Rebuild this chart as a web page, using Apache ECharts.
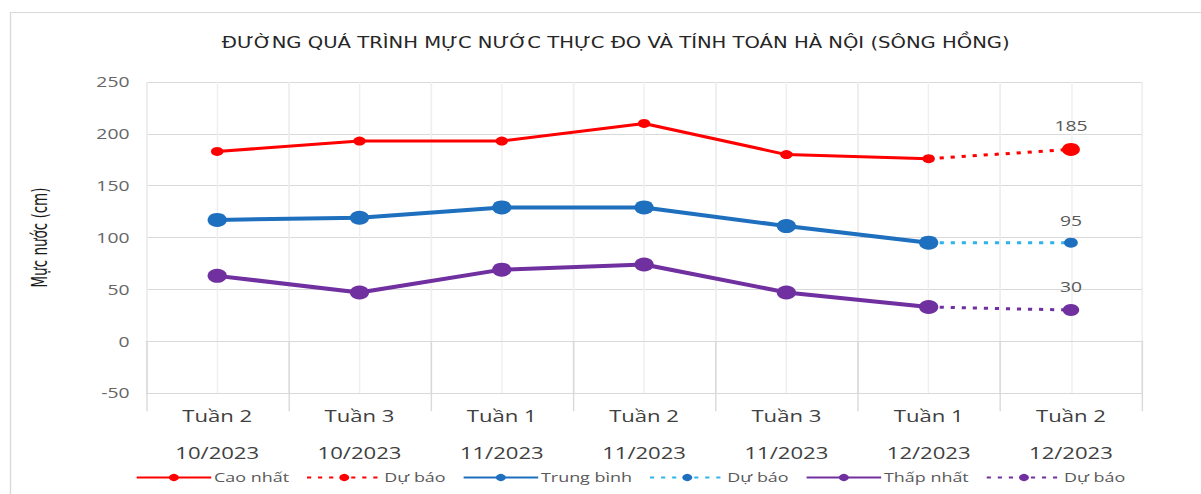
<!DOCTYPE html>
<html><head><meta charset="utf-8">
<script src="https://cdn.jsdelivr.net/npm/echarts@6/dist/echarts.min.js"></script>
<style>
html,body{margin:0;padding:0;background:#fff;overflow:hidden}
#c{width:870px;height:494px;transform:scaleX(1.3805);transform-origin:0 0}
</style>
</head><body><div id="c"></div>
<script>
const weeks = ['Tuần 2','Tuần 3','Tuần 1','Tuần 2','Tuần 3','Tuần 1','Tuần 2'];
const months = ['10/2023','10/2023','11/2023','11/2023','11/2023','12/2023','12/2023'];
const caoNhat = [183, 193, 193, 210, 180, 176, null];
const caoNhatDuBao = [null, null, null, null, null, 176, 185];
const trungBinh = [117, 119, 129, 129, 111, 95, null];
const trungBinhDuBao = [null, null, null, null, null, 95, 95];
const thapNhat = [63, 47, 69, 74, 47, 33, null];
const thapNhatDuBao = [null, null, null, null, null, 33, 30];
const yTicks = {min: -50, max: 250, interval: 50};

const categories = weeks.map((w, i) => w + '\n' + months[i]);
const halfCats = [];
categories.forEach((c, i) => { halfCats.push('a' + i, 'b' + i); });

const RED = '#ff0000', BLUE = '#1f6fbf', LBLUE = '#2db4ea', PURPLE = '#7030a0';
const narrow = '"Liberation Sans Narrow", "DejaVu Sans Condensed", sans-serif';
const body = '"Open Sans", sans-serif';

function forecast(arr, endSize) {
  return arr.map((v, i) => {
    if (v == null) return null;
    if (i === arr.length - 1) return {value: v, symbolSize: endSize, label: {show: true}};
    return {value: v, symbol: 'none'};
  });
}
const labelStyle = {position: 'top', distance: 10, color: '#595959', fontSize: 14, fontFamily: body};

const chart = echarts.init(document.getElementById('c'), null, {renderer: 'svg'});
chart.setOption({
  animation: false,
  title: {
    text: 'ĐƯỜNG QUÁ TRÌNH MỰC NƯỚC THỰC ĐO VÀ TÍNH TOÁN HÀ NỘI (SÔNG HỒNG)',
    left: 441, top: 29, textAlign: 'center',
    textStyle: {fontFamily: narrow, fontSize: 15.8, fontWeight: 'normal', color: '#262626'}
  },
  graphic: [{
    type: 'polyline', shape: {points: [[7.6, 494], [7.6, 12.5], [870, 12.5]]},
    style: {stroke: '#d9d9d9', lineWidth: 1, fill: null}, silent: true
  }],
  legend: {
    top: 466, left: 93, itemWidth: 54, itemHeight: 9, itemGap: 12,
    textStyle: {color: '#595959', fontSize: 13, fontFamily: body, padding: [0, 0, 0, -3]},
    data: ['Cao nhất', 'Dự báo', 'Trung bình', 'Dự báo\u200b', 'Thấp nhất', 'Dự báo\u200b\u200b']
  },
  grid: {left: 105.8, right: 42.7, top: 82, bottom: 101},
  xAxis: [{
    type: 'category', data: categories, boundaryGap: true,
    axisLine: {show: true, lineStyle: {color: '#d9d9d9'}},
    axisTick: {show: true, length: 70, lineStyle: {color: '#d9d9d9'}},
    splitLine: {show: true, lineStyle: {color: '#e6e6e6'}},
    axisLabel: {color: '#404040', fontSize: 16, fontFamily: body, lineHeight: 37, margin: 4}
  }, {
    type: 'category', data: halfCats, boundaryGap: true, position: 'bottom',
    axisLine: {show: false}, axisTick: {show: false}, axisLabel: {show: false},
    splitLine: {show: true, lineStyle: {color: '#efefef'}}
  }],
  yAxis: {
    type: 'value', min: yTicks.min, max: yTicks.max, interval: yTicks.interval,
    name: 'Mực nước (cm)', nameLocation: 'middle', nameGap: 70, nameRotate: 90,
    nameTextStyle: {fontFamily: narrow, fontSize: 15, color: '#1a1a1a'},
    axisLine: {show: false}, axisTick: {show: false},
    axisLabel: {color: '#666666', fontSize: 14, fontFamily: body, margin: 12},
    splitLine: {lineStyle: {color: '#d9d9d9'}}
  },
  series: [
    {name: 'Cao nhất', type: 'line', data: caoNhat, symbol: 'circle', symbolSize: 9,
     lineStyle: {color: RED, width: 3}, itemStyle: {color: RED}, z: 3},
    {name: 'Dự báo', type: 'line', data: forecast(caoNhatDuBao, 13), symbol: 'circle', symbolSize: 13,
     lineStyle: {color: RED, width: 3, type: [3, 5]}, itemStyle: {color: RED}, label: labelStyle, z: 2},
    {name: 'Trung bình', type: 'line', data: trungBinh, symbol: 'circle', symbolSize: 14,
     lineStyle: {color: BLUE, width: 4}, itemStyle: {color: BLUE}, z: 3},
    {name: 'Dự báo\u200b', type: 'line', data: forecast(trungBinhDuBao, 10), symbol: 'circle', symbolSize: 10,
     lineStyle: {color: LBLUE, width: 3, type: [3, 5]}, itemStyle: {color: BLUE}, label: labelStyle, z: 2},
    {name: 'Thấp nhất', type: 'line', data: thapNhat, symbol: 'circle', symbolSize: 14,
     lineStyle: {color: PURPLE, width: 4}, itemStyle: {color: PURPLE}, z: 3},
    {name: 'Dự báo\u200b\u200b', type: 'line', data: forecast(thapNhatDuBao, 12), symbol: 'circle', symbolSize: 12,
     lineStyle: {color: PURPLE, width: 3, type: [3, 5]}, itemStyle: {color: PURPLE}, label: labelStyle, z: 2}
  ]
});
</script></body></html>
